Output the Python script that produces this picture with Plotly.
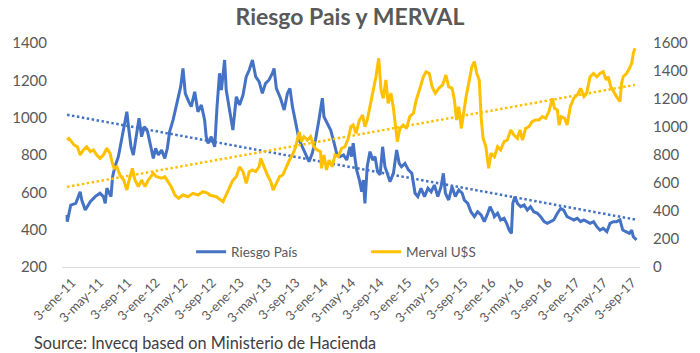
import plotly.graph_objects as go
import numpy as np
import pandas as pd

# ---------------- data ----------------
riesgo_dates = [
    "2011-01-03","2011-01-04","2011-01-19","2011-02-10","2011-03-01","2011-03-08","2011-03-23","2011-04-14","2011-05-05","2011-05-26",
    "2011-06-10","2011-06-18","2011-06-25","2011-07-02","2011-07-13","2011-07-20","2011-07-30","2011-08-14","2011-08-28","2011-09-10",
    "2011-09-20","2011-09-27","2011-10-08","2011-10-18","2011-10-28","2011-11-12","2011-11-23","2011-12-05","2011-12-19","2011-12-29",
    "2012-01-13","2012-01-23","2012-02-04","2012-02-18","2012-03-03","2012-03-14","2012-03-24","2012-04-08","2012-04-18","2012-04-29",
    "2012-05-11","2012-05-21","2012-05-31","2012-06-15","2012-06-26","2012-07-11","2012-07-25","2012-08-09","2012-08-23","2012-08-30",
    "2012-09-07","2012-09-21","2012-10-06","2012-10-16","2012-10-27","2012-11-04","2012-11-18","2012-11-25","2012-12-10","2012-12-24",
    "2013-01-08","2013-01-22","2013-02-06","2013-02-20","2013-03-05","2013-03-19","2013-04-02","2013-04-17","2013-05-01","2013-05-15",
    "2013-05-30","2013-06-14","2013-06-21","2013-07-01","2013-07-19","2013-08-04","2013-08-18","2013-08-29","2013-09-09","2013-09-23",
    "2013-10-08","2013-10-22","2013-11-06","2013-11-20","2013-12-04","2013-12-18",
    "2014-01-02","2014-01-17","2014-01-24","2014-02-08","2014-02-22","2014-03-06","2014-03-20","2014-04-04","2014-04-19","2014-05-03",
    "2014-05-17","2014-05-24","2014-05-31","2014-06-08","2014-06-15","2014-06-27","2014-07-07","2014-07-14","2014-07-21","2014-07-31",
    "2014-08-12","2014-08-24","2014-09-03","2014-09-14","2014-09-25","2014-10-06","2014-10-16","2014-10-26","2014-11-07","2014-11-22",
    "2014-12-06","2014-12-17","2014-12-27",
    "2015-01-11","2015-01-26","2015-02-10","2015-02-24","2015-03-08","2015-03-22","2015-04-06","2015-04-21","2015-05-05","2015-05-19",
    "2015-06-03","2015-06-17","2015-06-27","2015-07-06","2015-07-20","2015-08-04","2015-08-18","2015-09-02","2015-09-17","2015-09-26",
    "2015-10-11","2015-10-25","2015-11-09","2015-11-23","2015-12-08","2015-12-22",
    "2016-01-06","2016-01-16","2016-01-30","2016-02-04","2016-02-18","2016-03-02","2016-03-17","2016-03-28","2016-04-08","2016-04-18",
    "2016-04-24","2016-05-03","2016-05-14","2016-05-28","2016-06-12","2016-06-26","2016-07-10","2016-07-24","2016-08-09","2016-08-23",
    "2016-09-07","2016-09-21","2016-10-05","2016-10-19","2016-11-04","2016-11-18","2016-12-01","2016-12-16","2016-12-30",
    "2017-01-14","2017-01-29","2017-02-13","2017-02-27","2017-03-11","2017-03-26","2017-04-10","2017-04-24","2017-05-08","2017-05-22",
    "2017-06-07","2017-06-21","2017-07-05","2017-07-19","2017-08-03","2017-08-15","2017-08-29","2017-09-13","2017-09-23","2017-09-30",
    "2017-10-14",
]
riesgo_pais = [
    479, 443, 532, 541, 603, 559, 505, 550, 577, 595,
    577, 541, 622, 603, 577, 684, 737, 791, 880, 952,
    1032, 952, 844, 800, 880, 997, 898, 952, 925, 871,
    782, 836, 800, 827, 782, 836, 925, 988, 1041, 1104,
    1166, 1264, 1130, 1086, 1059, 1139, 1032, 1068, 988, 898,
    863, 898, 844, 1059, 1238, 1148, 1309, 1148, 1041, 934,
    1112, 1068, 1121, 1220, 1255, 1309, 1220, 1193, 1130, 1184,
    1202, 1238, 1264, 1157, 1104, 1041, 1130, 1157, 1059, 970,
    880, 844, 800, 764, 809, 880,
    988, 1104, 1005, 970, 934, 880, 809, 791, 800, 773,
    844, 791, 863, 782, 720, 666, 603, 666, 541, 737,
    818, 773, 791, 711, 693, 844, 737, 702, 657, 702,
    827, 755, 737,
    755, 720, 702, 595, 577, 622, 577, 622, 603, 639,
    577, 630, 702, 595, 559, 630, 577, 613, 595, 559,
    541, 496, 470, 496, 479, 443,
    488, 523, 488, 470, 488, 452, 461, 434, 398, 380,
    541, 577, 541, 523, 532, 505, 523, 496, 488, 470,
    443, 434, 443, 452, 488, 514, 505, 470, 461,
    452, 461, 443, 452, 443, 434, 443, 416, 398, 407,
    389, 434, 443, 443, 452, 398, 389, 380, 398, 362,
    345,
]

merval_dates = [
    "2011-01-03","2011-01-11","2011-02-03","2011-02-17","2011-03-01","2011-03-15","2011-03-29","2011-04-14","2011-04-28","2011-05-12",
    "2011-05-26","2011-06-10","2011-06-25","2011-07-09","2011-07-19","2011-07-27","2011-08-07","2011-08-21","2011-09-06","2011-09-20",
    "2011-09-30","2011-10-14","2011-10-25","2011-11-09","2011-11-23","2011-12-08","2011-12-22",
    "2012-01-13","2012-01-27","2012-02-18","2012-03-03","2012-03-17","2012-03-31","2012-04-16","2012-05-02","2012-05-21","2012-06-12",
    "2012-07-03","2012-07-25","2012-08-16","2012-09-07","2012-09-14","2012-10-13","2012-11-11","2012-11-25","2012-12-10","2012-12-24",
    "2013-01-08","2013-01-22","2013-02-06","2013-02-20","2013-03-05","2013-03-19","2013-04-02","2013-04-17","2013-04-24","2013-05-08",
    "2013-05-23","2013-06-07","2013-06-17","2013-07-01","2013-07-15","2013-07-29","2013-08-13","2013-08-27","2013-09-12","2013-09-23",
    "2013-10-08","2013-10-18","2013-10-29","2013-11-13","2013-11-27","2013-12-11","2013-12-25",
    "2014-01-09","2014-01-13","2014-01-24","2014-02-04","2014-02-15","2014-03-01","2014-03-13","2014-03-27","2014-04-11","2014-04-25",
    "2014-05-10","2014-05-21","2014-05-31","2014-06-12","2014-06-27","2014-07-11","2014-07-21","2014-07-31","2014-08-12","2014-08-26",
    "2014-09-07","2014-09-19","2014-09-29","2014-10-09","2014-10-20","2014-10-30","2014-11-11","2014-11-22","2014-12-02","2014-12-09",
    "2014-12-20",
    "2015-01-04","2015-01-18","2015-02-01","2015-02-17","2015-03-01","2015-03-15","2015-04-01","2015-04-13","2015-04-27","2015-05-09",
    "2015-05-23","2015-06-07","2015-06-24","2015-07-08","2015-07-20","2015-08-04","2015-08-14","2015-08-24","2015-09-02","2015-09-13",
    "2015-09-22","2015-10-04","2015-10-18","2015-10-29","2015-11-09","2015-11-19","2015-11-30","2015-12-09","2015-12-17","2015-12-29",
    "2016-01-10","2016-01-20","2016-02-04","2016-02-18","2016-03-02","2016-03-17","2016-03-31","2016-04-15","2016-04-29","2016-05-14",
    "2016-05-25","2016-06-05","2016-06-19","2016-07-03","2016-07-17","2016-07-31","2016-08-16","2016-08-30","2016-09-14","2016-09-28",
    "2016-10-13","2016-10-22","2016-11-04","2016-11-11","2016-11-21","2016-12-05","2016-12-16","2016-12-30",
    "2017-01-14","2017-01-29","2017-02-13","2017-02-27","2017-03-11","2017-03-26","2017-04-10","2017-04-24","2017-05-08","2017-05-22",
    "2017-06-04","2017-06-13","2017-06-24","2017-07-05","2017-07-19","2017-08-03","2017-08-10","2017-08-17","2017-09-01","2017-09-13",
    "2017-09-23","2017-09-30","2017-10-07",
]
merval_usd = [
    907, 919, 871, 859, 800, 836, 859, 824, 836, 800,
    776, 800, 848, 812, 741, 705, 716, 657, 621, 550,
    621, 705, 621, 574, 621, 574, 621,
    669, 645, 634, 645, 609, 574, 514, 491, 514, 502,
    526, 514, 538, 526, 514, 502, 466, 514, 574, 621,
    645, 716, 681, 598, 681, 693, 681, 716, 776, 716,
    657, 609, 550, 598, 645, 657, 716, 764, 812, 859,
    966, 895, 931, 907, 931, 859, 836,
    824, 705, 800, 693, 764, 716, 800, 788, 848, 859,
    919, 1002, 1014, 955, 1050, 1086, 1002, 1050, 1145, 1241,
    1359, 1491, 1264, 1205, 1336, 1169, 1241, 1134, 1002, 895,
    990,
    1014, 990, 1074, 1098, 1193, 1264, 1359, 1395, 1383, 1288,
    1241, 1276, 1300, 1371, 1288, 1276, 1193, 1050, 1145, 990,
    1098, 1217, 1336, 1431, 1467, 1383, 1336, 1050, 919, 859,
    705, 812, 788, 859, 836, 895, 907, 979, 943, 919,
    979, 907, 990, 1002, 1038, 1050, 1050, 1074, 1062, 1110,
    1205, 1134, 1121, 1014, 1074, 1062, 1014, 1145,
    1205, 1229, 1276, 1217, 1241, 1359, 1383, 1359, 1383, 1395,
    1336, 1359, 1288, 1252, 1217, 1181, 1312, 1359, 1383, 1419,
    1455, 1526, 1562,
]

tick_dates = [
    "2011-01-03","2011-05-03","2011-09-03","2012-01-03","2012-05-03","2012-09-03","2013-01-03",
    "2013-05-03","2013-09-03","2014-01-03","2014-05-03","2014-09-03","2015-01-03","2015-05-03",
    "2015-09-03","2016-01-03","2016-05-03","2016-09-03","2017-01-03","2017-05-03","2017-09-03",
]
tick_labels = [
    "3-ene-11","3-may-11","3-sep-11","3-ene-12","3-may-12","3-sep-12","3-ene-13",
    "3-may-13","3-sep-13","3-ene-14","3-may-14","3-sep-14","3-ene-15","3-may-15",
    "3-sep-15","3-ene-16","3-may-16","3-sep-16","3-ene-17","3-may-17","3-sep-17",
]

BLUE = "#4472C4"
GOLD = "#FFC000"
GREY = "#595959"
FONT = "Lato"


def linear_trend(dates, values):
    t = pd.to_datetime(dates)
    d = np.asarray((t - t[0]).days, dtype=float)
    slope, icpt = np.polyfit(d, np.asarray(values, dtype=float), 1)
    return [t[0], t[-1]], [icpt, slope * d[-1] + icpt]


fig = go.Figure()

fig.add_trace(go.Scatter(x=pd.to_datetime(riesgo_dates), y=riesgo_pais, name="Riesgo País",
                         mode="lines", line=dict(color=BLUE, width=3), yaxis="y"))
fig.add_trace(go.Scatter(x=pd.to_datetime(merval_dates), y=merval_usd, name="Merval U$S",
                         mode="lines", line=dict(color=GOLD, width=3), yaxis="y2"))

tx, ty = linear_trend(riesgo_dates, riesgo_pais)
fig.add_trace(go.Scatter(x=tx, y=ty, mode="lines", showlegend=False, hoverinfo="skip",
                         line=dict(color=BLUE, width=2.5, dash="2.5px,2.5px"), yaxis="y"))
tx, ty = linear_trend(merval_dates, merval_usd)
fig.add_trace(go.Scatter(x=tx, y=ty, mode="lines", showlegend=False, hoverinfo="skip",
                         line=dict(color=GOLD, width=2.5, dash="2.5px,2.5px"), yaxis="y2"))

fig.update_layout(
    width=700, height=353,
    margin=dict(l=58, r=60, t=43, b=86),
    paper_bgcolor="white", plot_bgcolor="white",
    font=dict(family=FONT, color=GREY),
    title=dict(text="Riesgo Pais y MERVAL", x=0.5, xanchor="center", y=1 - 17 / 353, yanchor="middle",
               font=dict(family=FONT, size=23, color=GREY, weight="bold")),
    xaxis=dict(type="date", range=["2010-12-12", "2017-10-29"], tickvals=pd.to_datetime(tick_dates),
               ticktext=tick_labels, tickangle=-45, tickfont=dict(size=13, color=GREY),
               showgrid=False, zeroline=False, showline=True, linecolor="#D9D9D9", linewidth=1,
               ticks="", ticklabelstandoff=2, ticklabelshift=5),
    yaxis=dict(range=[200, 1400], tickvals=[200, 400, 600, 800, 1000, 1200, 1400],
               tickfont=dict(size=15, color=GREY), showgrid=False, zeroline=False, showline=False,
               ticks="", ticklabelstandoff=14),
    yaxis2=dict(range=[0, 1600], tickvals=[0, 200, 400, 600, 800, 1000, 1200, 1400, 1600],
                overlaying="y", side="right", tickfont=dict(size=15, color=GREY), showgrid=False,
                zeroline=False, showline=False, ticks="", ticklabelstandoff=12),
    legend=dict(orientation="h", x=(188 - 58) / 582, xanchor="left", y=(267 - 252) / 224, yanchor="middle",
                font=dict(size=13.5, color=GREY), bgcolor="rgba(0,0,0,0)", entrywidth=130,
                entrywidthmode="pixels"),
    showlegend=True,
)

fig.add_annotation(text="Source: Invecq based on Ministerio de Hacienda", xref="paper", yref="paper",
                   x=(28 - 58) / 582, xanchor="left", y=(267 - 342) / 224, yanchor="middle",
                   showarrow=False, font=dict(family=FONT, size=16.3, color="#404040"))

fig.write_html("out.html")
